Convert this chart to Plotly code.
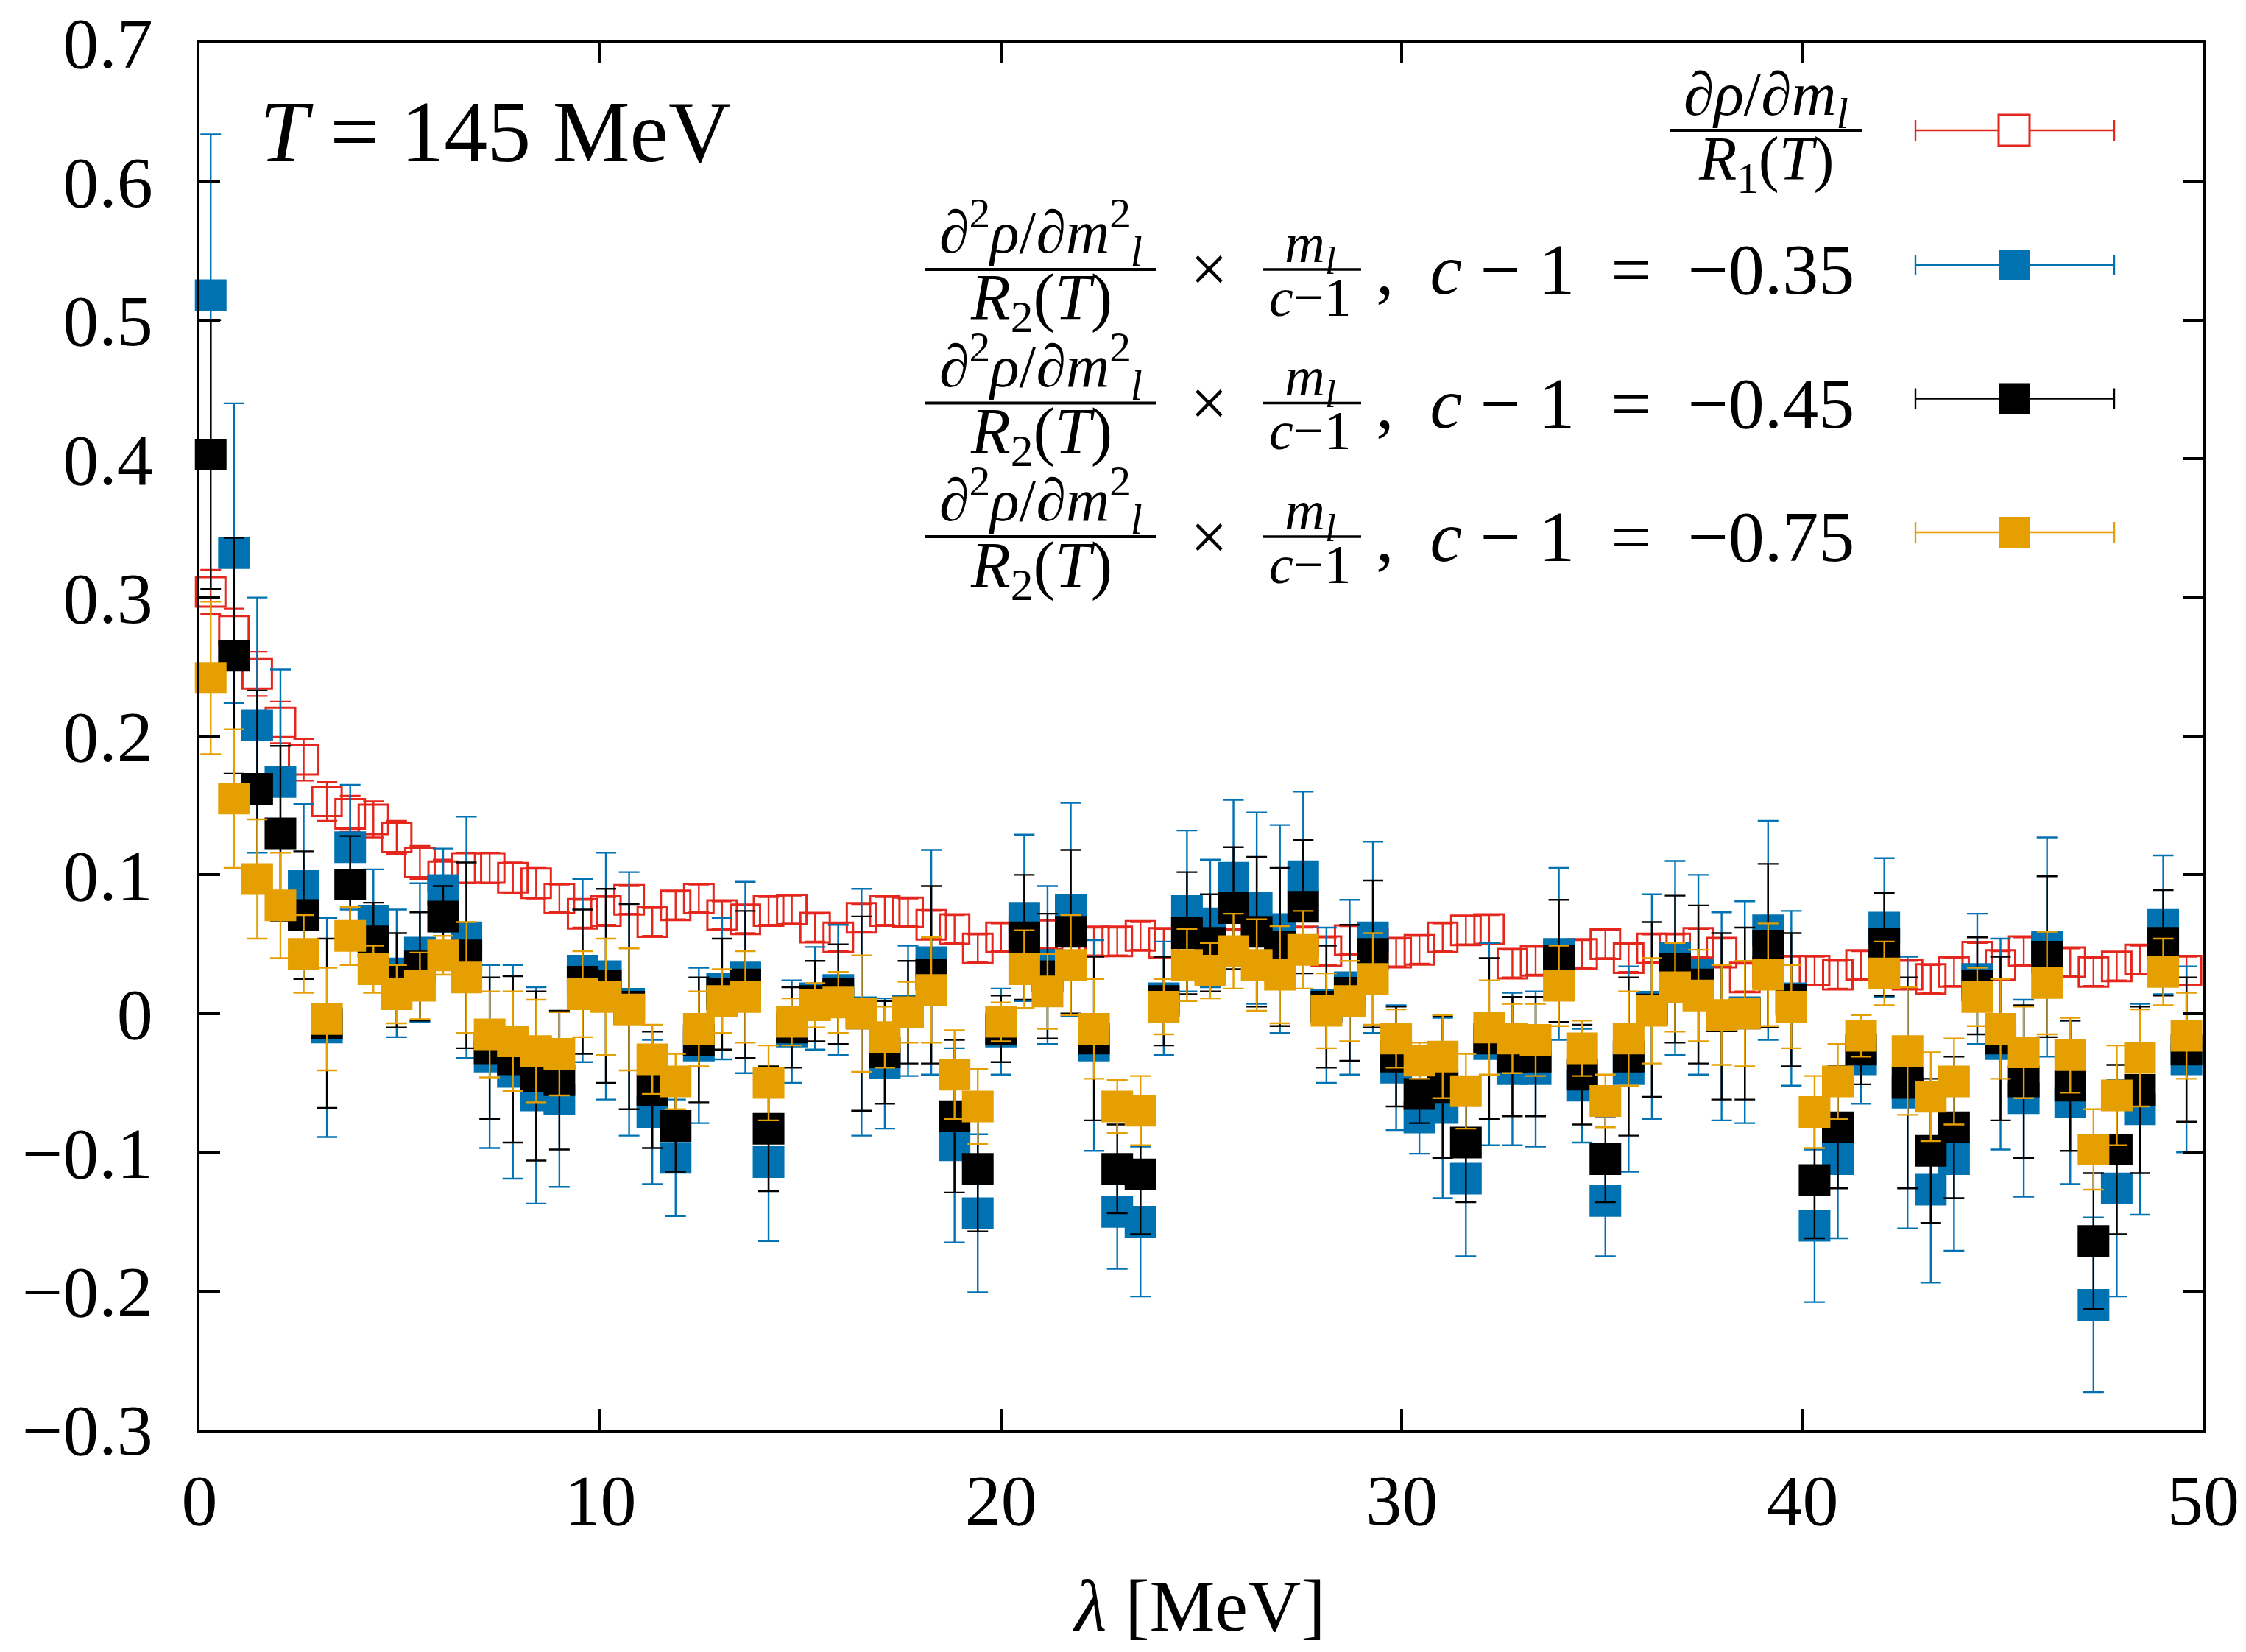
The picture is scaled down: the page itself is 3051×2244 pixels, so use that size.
import plotly.graph_objects as go

# ---------------- data ----------------
lam = [0.28, 0.86, 1.44, 2.02, 2.60, 3.18, 3.76, 4.34, 4.92, 5.50,
       6.08, 6.66, 7.24, 7.82, 8.40, 8.98, 9.56, 10.14, 10.72, 11.30,
       11.88, 12.46, 13.04, 13.62, 14.20, 14.78, 15.36, 15.94, 16.52, 17.10,
       17.68, 18.26, 18.84, 19.42, 20.00, 20.58, 21.16, 21.74, 22.32, 22.90,
       23.48, 24.06, 24.64, 25.22, 25.80, 26.38, 26.96, 27.54, 28.12, 28.70,
       29.28, 29.86, 30.44, 31.02, 31.60, 32.18, 32.76, 33.34, 33.92, 34.50,
       35.08, 35.66, 36.24, 36.82, 37.40, 37.98, 38.56, 39.14, 39.72, 40.30,
       40.88, 41.46, 42.04, 42.62, 43.20, 43.78, 44.36, 44.94, 45.52, 46.10,
       46.68, 47.26, 47.84, 48.42, 49.00, 49.58]

red_y = [0.304, 0.276, 0.245, 0.210, 0.183, 0.153, 0.144, 0.140, 0.127, 0.109,
         0.099, 0.105, 0.105, 0.098, 0.094, 0.083, 0.072, 0.074, 0.082, 0.066,
         0.078, 0.083, 0.071, 0.068, 0.074, 0.075, 0.062, 0.055, 0.069, 0.074,
         0.073, 0.064, 0.061, 0.047, 0.055, 0.058, 0.057, 0.055, 0.052, 0.052,
         0.056, 0.051, 0.054, 0.052, 0.050, 0.055, 0.058, 0.052, 0.045, 0.053,
         0.050, 0.044, 0.046, 0.055, 0.060, 0.061, 0.036, 0.038, 0.040, 0.043,
         0.050, 0.040, 0.047, 0.047, 0.051, 0.044, 0.026, 0.030, 0.031, 0.031,
         0.028, 0.035, 0.033, 0.028, 0.025, 0.030, 0.041, 0.035, 0.045, 0.046,
         0.037, 0.030, 0.034, 0.039, 0.042, 0.031]
red_err = [0.016, 0.016, 0.016, 0.015, 0.015, 0.014, 0.013, 0.013, 0.012, 0.012,
           0.012, 0.011, 0.011, 0.011, 0.011, 0.010, 0.010, 0.010, 0.010, 0.010,
           0.010, 0.010, 0.010, 0.010, 0.010, 0.010, 0.010, 0.010, 0.010, 0.010,
           0.010, 0.010, 0.010, 0.010, 0.010, 0.010, 0.010, 0.010, 0.010, 0.010,
           0.010, 0.010, 0.010, 0.010, 0.010, 0.010, 0.010, 0.010, 0.010, 0.010,
           0.010, 0.010, 0.010, 0.010, 0.010, 0.010, 0.010, 0.010, 0.010, 0.010,
           0.010, 0.010, 0.010, 0.010, 0.010, 0.010, 0.010, 0.010, 0.010, 0.010,
           0.010, 0.010, 0.010, 0.010, 0.010, 0.010, 0.010, 0.010, 0.010, 0.010,
           0.010, 0.010, 0.010, 0.010, 0.010, 0.010]

blue_y = [0.518, 0.332, 0.208, 0.167, 0.092, -0.010, 0.120, 0.067, 0.029, 0.044,
          0.089, 0.055, -0.031, -0.042, -0.059, -0.062, 0.031, 0.027, 0.007, -0.071,
          -0.104, -0.023, 0.018, 0.026, -0.107, -0.013, 0.011, 0.017, 0.001, -0.036,
          0.002, 0.037, -0.095, -0.144, -0.013, 0.069, 0.035, 0.075, -0.023, -0.143,
          -0.150, 0.011, 0.074, 0.065, 0.098, 0.076, 0.061, 0.099, 0.006, 0.019,
          0.055, -0.039, -0.075, -0.068, -0.119, -0.022, -0.040, -0.040, 0.043, -0.052,
          -0.135, -0.040, 0.005, 0.040, 0.028, -0.002, 0.001, 0.060, 0.011, -0.153,
          -0.105, -0.033, 0.062, -0.057, -0.127, -0.105, 0.025, -0.022, -0.061, 0.048,
          -0.064, -0.210, -0.126, -0.069, 0.064, -0.033]
blue_err = [0.116, 0.108, 0.092, 0.081, 0.059, 0.079, 0.045, 0.037, 0.046, 0.050,
            0.030, 0.087, 0.066, 0.077, 0.078, 0.063, 0.066, 0.089, 0.095, 0.052,
            0.042, 0.056, 0.051, 0.069, 0.057, 0.037, 0.037, 0.047, 0.089, 0.047,
            0.047, 0.081, 0.070, 0.057, 0.031, 0.060, 0.057, 0.077, 0.076, 0.041,
            0.054, 0.041, 0.058, 0.046, 0.056, 0.069, 0.075, 0.061, 0.056, 0.063,
            0.069, 0.045, 0.026, 0.065, 0.056, 0.073, 0.055, 0.056, 0.062, 0.041,
            0.040, 0.074, 0.081, 0.070, 0.072, 0.075, 0.080, 0.079, 0.063, 0.055,
            0.057, 0.032, 0.050, 0.098, 0.067, 0.066, 0.047, 0.076, 0.071, 0.079,
            0.059, 0.063, 0.078, 0.076, 0.050, 0.067]

black_y = [0.403, 0.258, 0.162, 0.130, 0.071, -0.007, 0.093, 0.052, 0.024, 0.034,
           0.070, 0.042, -0.025, -0.033, -0.045, -0.048, 0.023, 0.020, 0.005, -0.055,
           -0.081, -0.019, 0.014, 0.021, -0.083, -0.010, 0.009, 0.014, 0.000, -0.028,
           0.001, 0.028, -0.074, -0.112, -0.011, 0.055, 0.027, 0.059, -0.018, -0.112,
           -0.116, 0.009, 0.058, 0.051, 0.076, 0.059, 0.048, 0.077, 0.005, 0.015,
           0.043, -0.031, -0.058, -0.053, -0.093, -0.018, -0.031, -0.031, 0.038, -0.044,
           -0.105, -0.031, 0.003, 0.032, 0.021, -0.002, 0.000, 0.049, 0.010, -0.120,
           -0.082, -0.026, 0.050, -0.050, -0.099, -0.082, 0.020, -0.018, -0.049, 0.041,
           -0.052, -0.164, -0.098, -0.055, 0.051, -0.026]
black_err = [0.097, 0.085, 0.071, 0.063, 0.046, 0.061, 0.035, 0.028, 0.034, 0.039,
             0.022, 0.067, 0.051, 0.060, 0.061, 0.050, 0.052, 0.070, 0.074, 0.042,
             0.033, 0.045, 0.040, 0.053, 0.045, 0.029, 0.029, 0.036, 0.070, 0.037,
             0.037, 0.064, 0.055, 0.045, 0.024, 0.045, 0.045, 0.059, 0.059, 0.032,
             0.043, 0.032, 0.044, 0.035, 0.044, 0.054, 0.057, 0.048, 0.044, 0.049,
             0.053, 0.036, 0.021, 0.051, 0.043, 0.058, 0.043, 0.043, 0.044, 0.036,
             0.031, 0.057, 0.063, 0.053, 0.057, 0.060, 0.062, 0.059, 0.048, 0.042,
             0.044, 0.025, 0.037, 0.076, 0.052, 0.051, 0.035, 0.059, 0.055, 0.058,
             0.047, 0.049, 0.061, 0.060, 0.038, 0.052]

orange_y = [0.242, 0.155, 0.097, 0.078, 0.043, -0.004, 0.056, 0.032, 0.014, 0.020,
            0.042, 0.026, -0.015, -0.020, -0.027, -0.029, 0.014, 0.012, 0.003, -0.033,
            -0.049, -0.011, 0.009, 0.012, -0.050, -0.006, 0.006, 0.008, 0.000, -0.017,
            0.001, 0.017, -0.044, -0.067, -0.006, 0.032, 0.016, 0.035, -0.011, -0.067,
            -0.070, 0.005, 0.035, 0.031, 0.045, 0.035, 0.028, 0.046, 0.002, 0.009,
            0.025, -0.018, -0.034, -0.031, -0.056, -0.010, -0.018, -0.019, 0.020, -0.025,
            -0.063, -0.018, 0.002, 0.019, 0.013, -0.001, 0.000, 0.028, 0.005, -0.071,
            -0.049, -0.016, 0.029, -0.027, -0.060, -0.049, 0.012, -0.011, -0.028, 0.022,
            -0.030, -0.098, -0.059, -0.032, 0.030, -0.016]
orange_err = [0.055, 0.050, 0.043, 0.038, 0.028, 0.037, 0.021, 0.017, 0.021, 0.024,
              0.014, 0.040, 0.031, 0.036, 0.037, 0.030, 0.031, 0.042, 0.044, 0.025,
              0.020, 0.027, 0.023, 0.033, 0.027, 0.017, 0.016, 0.022, 0.042, 0.022,
              0.022, 0.038, 0.032, 0.027, 0.014, 0.028, 0.027, 0.036, 0.036, 0.019,
              0.025, 0.020, 0.026, 0.020, 0.027, 0.033, 0.035, 0.028, 0.027, 0.029,
              0.033, 0.021, 0.013, 0.030, 0.027, 0.034, 0.025, 0.026, 0.029, 0.020,
              0.019, 0.034, 0.038, 0.032, 0.033, 0.036, 0.038, 0.037, 0.030, 0.026,
              0.027, 0.015, 0.023, 0.046, 0.032, 0.031, 0.021, 0.036, 0.033, 0.037,
              0.027, 0.029, 0.036, 0.035, 0.024, 0.031]

c_labels = ["−0.35", "−0.45", "−0.75"]
x_ticks = [0, 10, 20, 30, 40, 50]
y_ticks = [-0.3, -0.2, -0.1, 0, 0.1, 0.2, 0.3, 0.4, 0.5, 0.6, 0.7]
y_ticktext = ["−0.3", "−0.2", "−0.1", "0", "0.1", "0.2", "0.3", "0.4", "0.5", "0.6", "0.7"]

# ---------------- style ----------------
RED = "#e5261c"
BLUE = "#0072b2"
BLACK = "#000000"
ORANGE = "#e69f00"
FONT = "Liberation Serif"
NB = "&nbsp;"

# the page body has an 8 px margin: figure is placed at (8, 8)
OFF = 8
W, H = 3051 - 2 * OFF, 2244 - 2 * OFF
# plot area in absolute page pixels
AX0, AX1, AY0, AY1 = 271, 2993, 58, 1942
L, T = AX0 - OFF, AY0 - OFF
R, B = W - (AX1 - OFF), H - (AY1 - OFF)
PW, PH = AX1 - AX0, AY1 - AY0


def px(X):
    return (X - AX0) / PW


def py(Y):
    return (AY1 - Y) / PH


fig = go.Figure()

series = [
    (red_y, red_err, RED, "square-open", 3),
    (blue_y, blue_err, BLUE, "square", 0),
    (black_y, black_err, BLACK, "square", 0),
    (orange_y, orange_err, ORANGE, "square", 0),
]
for yv, ev, col, sym, lw in series:
    fig.add_trace(go.Scatter(
        x=lam, y=yv, mode="markers", cliponaxis=False, showlegend=False,
        marker=dict(symbol=sym, size=43 if lw == 0 else 40, color=col,
                    line=dict(color=col, width=lw)),
        error_y=dict(type="data", array=ev, visible=True, color=col,
                     thickness=2.4, width=14),
    ))

axis_common = dict(
    showline=True, linecolor="black", linewidth=3.5, mirror="ticks",
    ticks="inside", ticklen=28, tickwidth=3.5, tickcolor="black",
    showgrid=False, zeroline=False, ticklabeloverflow="allow",
    tickfont=dict(family=FONT, size=98, color="black"),
)
fig.update_xaxes(range=[0, 50], tickvals=x_ticks, ticklabelstandoff=8, **axis_common)
fig.update_yaxes(range=[-0.3, 0.7], tickvals=y_ticks, ticktext=y_ticktext,
                 ticklabelstandoff=40, **axis_common)

shapes = []
annotations = []


def txt(X, Y, s, size, anchor="center"):
    annotations.append(dict(x=px(X), y=py(Y), xref="paper", yref="paper", text=s,
                            showarrow=False, xanchor=anchor, yanchor="middle",
                            borderpad=0,
                            font=dict(family=FONT, size=size, color="black")))


def hline(X0, X1, Y, color="black", w=4):
    shapes.append(dict(type="line", xref="paper", yref="paper", x0=px(X0), x1=px(X1),
                       y0=py(Y), y1=py(Y), line=dict(color=color, width=w)))


def vline(X, Y0, Y1, color, w=2.4):
    shapes.append(dict(type="line", xref="paper", yref="paper", x0=px(X), x1=px(X),
                       y0=py(Y0), y1=py(Y1), line=dict(color=color, width=w)))


def sample(Y, color, filled):
    hline(2602, 2872, Y, color, 2.4)
    vline(2602, Y - 14, Y + 14, color)
    vline(2872, Y - 14, Y + 14, color)
    shapes.append(dict(type="rect", xref="paper", yref="paper",
                       x0=px(2736 - 21), x1=px(2736 + 21), y0=py(Y + 21), y1=py(Y - 21),
                       fillcolor=color if filled else "white",
                       line=dict(color=color, width=0 if filled else 3)))


# temperature label
txt(352, 179, "<i>T</i> = 145 MeV", 118, anchor="left")

# legend row 1
txt(2399, 134, "∂<i>ρ</i>/∂<i>m<sub>l</sub></i>", 84)
hline(2268, 2530, 177)
txt(2399, 222, "<i>R</i><sub>1</sub>(<i>T</i>)", 84)
sample(177, RED, False)

row_cols = [BLUE, BLACK, ORANGE]
for k, (lab, col) in enumerate(zip(c_labels, row_cols)):
    Y0 = 366 + 181.5 * k
    txt(1414, Y0 - 50, "∂<sup>2</sup><i>ρ</i>/∂<i>m</i><sup>2</sup><sub><i>l</i></sub>", 82)
    hline(1257, 1571, Y0)
    txt(1414, Y0 + 44, "<i>R</i><sub>2</sub>(<i>T</i>)", 88)
    txt(1642, Y0, "×", 90)
    txt(1780, Y0 - 30, "<i>m<sub>l</sub></i>", 76)
    hline(1715, 1849, Y0, w=3.5)
    txt(1780, Y0 + 38, "<i>c</i>−1", 74)
    txt(1868, Y0, "," + NB * 2 + "<i>c</i>" + NB + "−" + NB + "1" + NB * 2 + "=" + NB * 2 + lab,
        98, anchor="left")
    sample(Y0 - 6, col, True)

# x-axis title
txt(1628, 2181, "<i>λ</i> [MeV]", 100)

fig.update_layout(
    width=W, height=H, margin=dict(l=L, r=R, t=T, b=B, autoexpand=False),
    paper_bgcolor="white", plot_bgcolor="white",
    shapes=shapes, annotations=annotations, showlegend=False,
)

fig.write_html("out.html")
